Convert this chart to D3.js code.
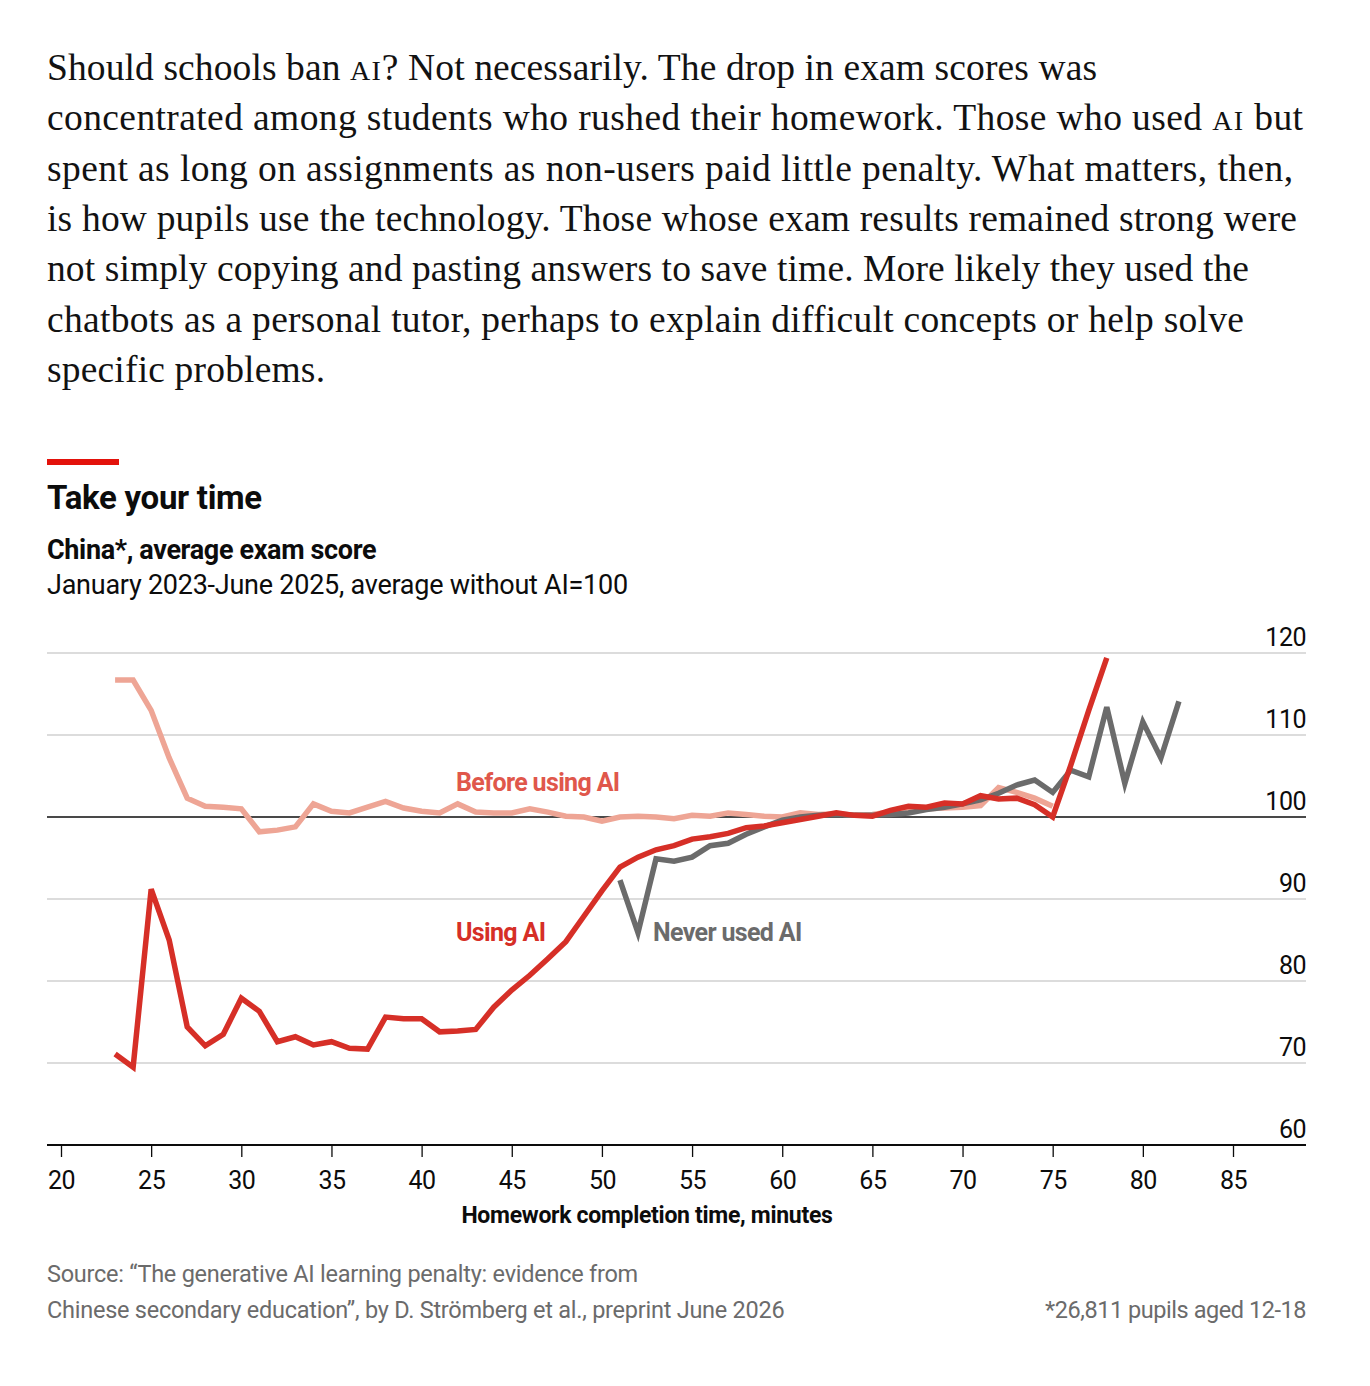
<!DOCTYPE html>
<html>
<head>
<meta charset="utf-8">
<script src="https://cdn.jsdelivr.net/npm/d3@7"></script>
<style>
  html, body { margin: 0; padding: 0; background: #fff; }
  svg { display: block; }
  .sans { font-family: "Roboto", "Liberation Sans", sans-serif; }
  .serif { font-family: "Liberation Serif", "DejaVu Serif", serif; }
</style>
</head>
<body>
<svg id="chart" width="1370" height="1386"></svg>
<script>
// ---------- DATA ----------
const minutesBefore = [23,24,25,26,27,28,29,30,31,32,33,34,35,36,37,38,39,40,41,42,43,44,45,46,47,48,49,50,51,52,53,54,55,56,57,58,59,60,61,62,63,64,65,66,67,68,69,70,71,72,73,74,75];
const beforeAI = [116.7,116.7,113.0,107.2,102.3,101.3,101.2,101.0,98.2,98.4,98.8,101.6,100.7,100.5,101.2,101.9,101.1,100.7,100.5,101.6,100.6,100.5,100.5,101.0,100.6,100.1,100.0,99.5,100.0,100.1,100.0,99.8,100.2,100.1,100.5,100.3,100.1,100.0,100.5,100.3,100.4,100.2,100.3,100.6,100.8,101.0,101.1,101.2,101.4,103.6,103.0,102.3,101.3];

const minutesUsing = [23,24,25,26,27,28,29,30,31,32,33,34,35,36,37,38,39,40,41,42,43,44,45,46,47,48,49,50,51,52,53,54,55,56,57,58,59,60,61,62,63,64,65,66,67,68,69,70,71,72,73,74,75,76,77,78];
const usingAI = [71.1,69.5,91.2,85.0,74.4,72.1,73.5,77.9,76.3,72.6,73.2,72.2,72.6,71.8,71.7,75.6,75.4,75.4,73.8,73.9,74.1,76.8,78.9,80.7,82.7,84.8,87.9,91.0,93.9,95.1,96.0,96.5,97.3,97.6,98.0,98.7,98.9,99.3,99.7,100.1,100.5,100.2,100.1,100.8,101.3,101.2,101.7,101.6,102.6,102.2,102.3,101.5,100.0,106.3,113.0,119.4];

const minutesNever = [51,52,53,54,55,56,57,58,59,60,61,62,63,64,65,66,67,68,69,70,71,72,73,74,75,76,77,78,79,80,81,82];
const neverAI = [92.3,85.9,94.9,94.6,95.1,96.5,96.8,97.9,98.8,99.6,100.0,100.2,100.3,100.2,100.2,100.3,100.5,100.9,101.2,101.6,102.1,102.9,103.9,104.5,103.0,105.7,104.9,113.4,104.1,111.6,107.2,114.1];

const xTicks = [20,25,30,35,40,45,50,55,60,65,70,75,80,85];
const yTicks = [60,70,80,90,100,110,120];

const bodyLines = [
  ["Should schools ban ", {sc:"AI"}, "? Not necessarily. The drop in exam scores was"],
  ["concentrated among students who rushed their homework. Those who used ", {sc:"AI"}, " but"],
  ["spent as long on assignments as non-users paid little penalty. What matters, then,"],
  ["is how pupils use the technology. Those whose exam results remained strong were"],
  ["not simply copying and pasting answers to save time. More likely they used the"],
  ["chatbots as a personal tutor, perhaps to explain difficult concepts or help solve"],
  ["specific problems."]
];
const bodyLineEnds = [1097,1303,1293,1297,1249,1244,325];

// ---------- LAYOUT ----------
const svg = d3.select("#chart");
const left = 47, right = 1306;
const x = d3.scaleLinear().domain([20,85]).range([61,1233]);
const y = d3.scaleLinear().domain([60,120]).range([1145,653]);

const colBefore = "#eea595", colUsing = "#d62f27", colNever = "#6b6b6b";

// body text
const body = svg.append("g").attr("class","serif").attr("fill","#121212").attr("font-size",37.5);
bodyLines.forEach((parts,i) => {
  const t = body.append("text").attr("x",left).attr("y",80 + i*50.3)
    .attr("textLength", bodyLineEnds[i]-left).attr("lengthAdjust","spacing");
  parts.forEach(p => {
    if (typeof p === "string") t.append("tspan").text(p);
    else t.append("tspan").attr("font-size",28).attr("letter-spacing",1).text(p.sc);
  });
});

// red marker bar
svg.append("rect").attr("x",left).attr("y",459).attr("width",72).attr("height",6).attr("fill","#e3120b");

// titles
svg.append("text").attr("class","sans").attr("x",left).attr("y",509)
  .attr("font-size",33).attr("font-weight",700).attr("fill","#0c0c0c").attr("letter-spacing",-0.3)
  .text("Take your time");
svg.append("text").attr("class","sans").attr("x",left).attr("y",559)
  .attr("font-size",27).attr("font-weight",700).attr("fill","#0c0c0c").attr("letter-spacing",-0.35)
  .text("China*, average exam score");
svg.append("text").attr("class","sans").attr("x",left).attr("y",594)
  .attr("font-size",27).attr("fill","#0c0c0c").attr("letter-spacing",-0.25)
  .text("January 2023-June 2025, average without AI=100");

// gridlines
const grid = svg.append("g");
grid.selectAll("line").data(yTicks.filter(d => d!==60)).join("line")
  .attr("x1",left).attr("x2",right)
  .attr("y1",d=>y(d)).attr("y2",d=>y(d))
  .attr("stroke",d=> d===100 ? "#0c0c0c" : "#d0d0d0")
  .attr("stroke-width",d=> d===100 ? 1.6 : 1.3);

// y labels
svg.append("g").attr("class","sans").selectAll("text").data(yTicks).join("text")
  .attr("x",right).attr("y",d=>y(d)-7).attr("text-anchor","end")
  .attr("font-size",25).attr("fill","#0c0c0c").attr("letter-spacing",-0.5).text(d=>d);

// x axis
const xAxis = d3.axisBottom(x).tickValues(xTicks).tickSize(12).tickPadding(8).tickFormat(d3.format("d"));
const gx = svg.append("g").attr("transform",`translate(0,${y(60)})`).call(xAxis);
gx.select(".domain").remove();
gx.selectAll(".tick line").attr("stroke","#0c0c0c").attr("stroke-width",1.3);
gx.selectAll(".tick text").attr("class","sans").attr("font-size",25).attr("fill","#0c0c0c").attr("dy","0.95em").attr("letter-spacing",-0.5);
svg.append("line").attr("x1",left).attr("x2",right).attr("y1",y(60)).attr("y2",y(60))
  .attr("stroke","#0c0c0c").attr("stroke-width",1.8);

svg.append("text").attr("class","sans").attr("x",647).attr("y",1223).attr("text-anchor","middle")
  .attr("font-size",23).attr("font-weight",700).attr("fill","#0c0c0c").attr("letter-spacing",-0.3)
  .text("Homework completion time, minutes");

// lines
const line = d3.line().x(d=>x(d[0])).y(d=>y(d[1]));
const lines = svg.append("g").attr("fill","none").attr("stroke-width",5.5).attr("stroke-linejoin","miter").attr("stroke-linecap","butt");
lines.append("path").datum(d3.zip(minutesBefore,beforeAI)).attr("d",line).attr("stroke",colBefore);
lines.append("path").datum(d3.zip(minutesNever,neverAI)).attr("d",line).attr("stroke",colNever);
lines.append("path").datum(d3.zip(minutesUsing,usingAI)).attr("d",line).attr("stroke",colUsing);

// labels
const lab = svg.append("g").attr("class","sans").attr("font-size",25).attr("font-weight",700).attr("letter-spacing",-0.65);
lab.append("text").attr("x",456).attr("y",791).attr("fill","#e0574b").text("Before using AI");
lab.append("text").attr("x",456).attr("y",941).attr("fill",colUsing).text("Using AI");
lab.append("text").attr("x",653).attr("y",941).attr("fill",colNever).text("Never used AI");

// footer
const foot = svg.append("g").attr("class","sans").attr("font-size",23.5).attr("fill","#6b6b6b").attr("letter-spacing",-0.25);
foot.append("text").attr("x",left).attr("y",1282).text("Source: \u201cThe generative AI learning penalty: evidence from");
foot.append("text").attr("x",left).attr("y",1318).text("Chinese secondary education\u201d, by D. Str\u00f6mberg et al., preprint June 2026");
foot.append("text").attr("x",right).attr("y",1318).attr("text-anchor","end").attr("letter-spacing",-0.45).text("*26,811 pupils aged 12-18");
</script>
</body>
</html>
